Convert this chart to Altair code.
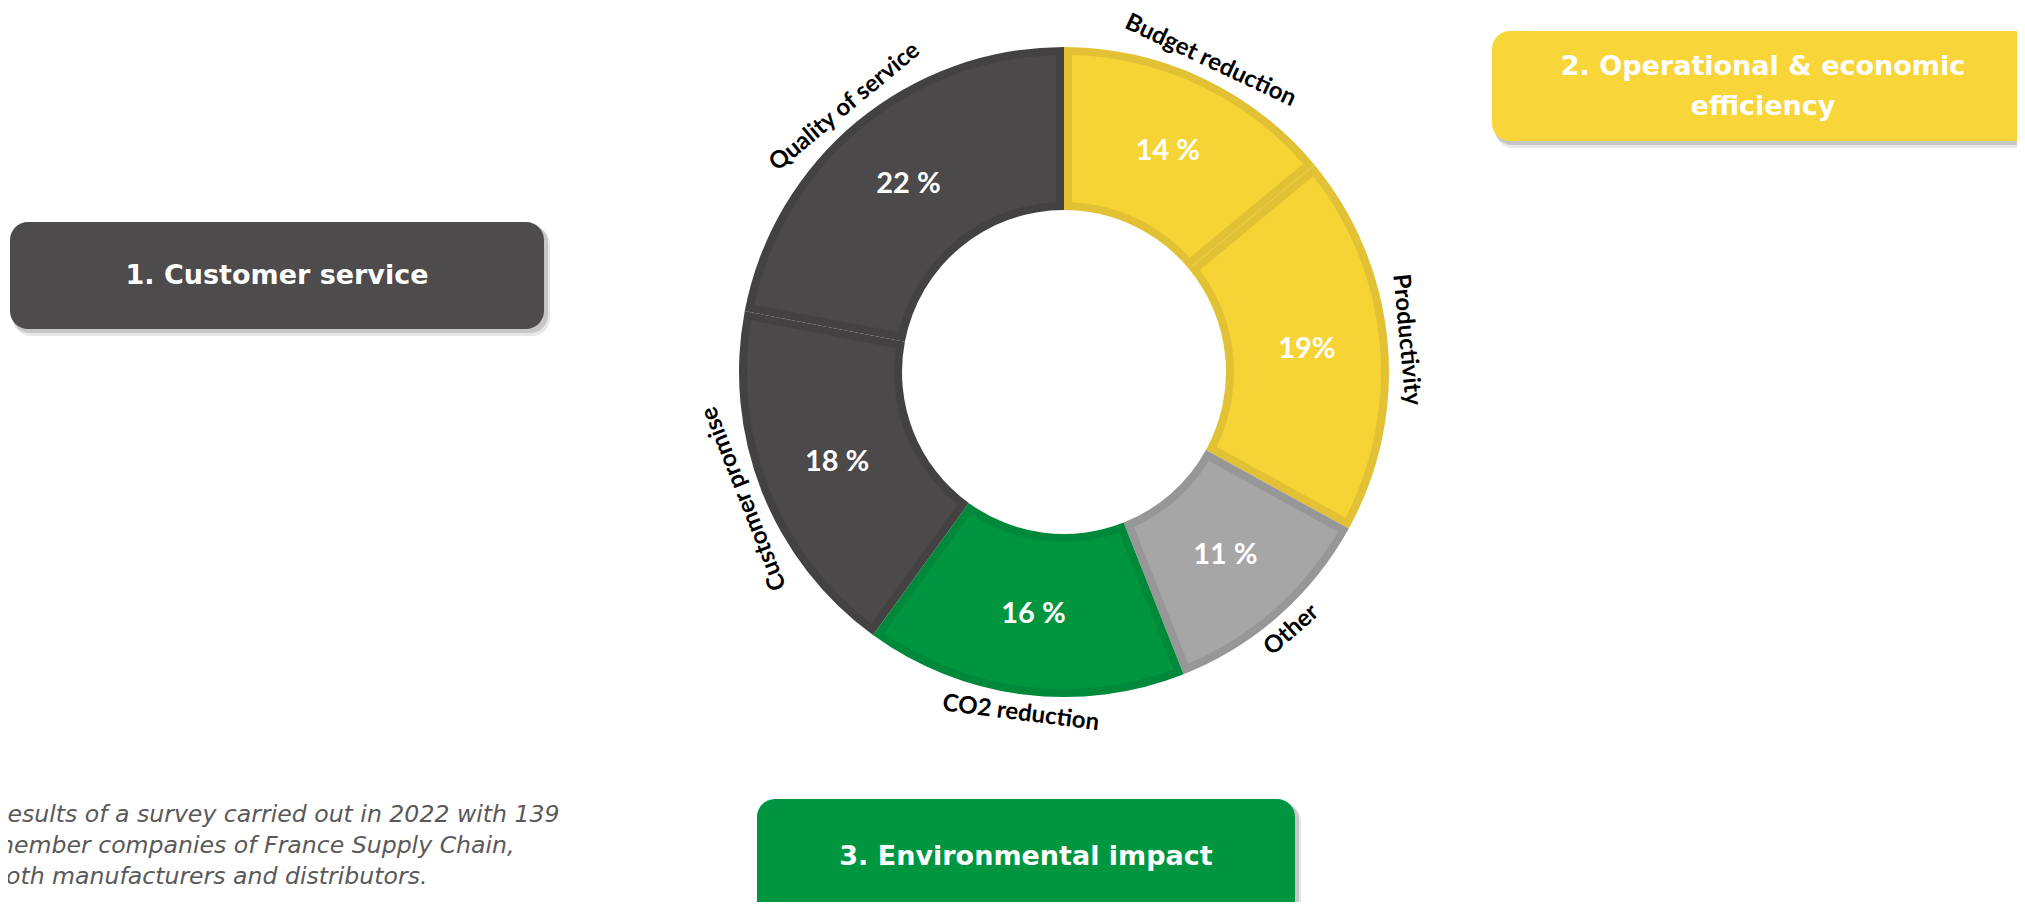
import altair as alt
import pandas as pd

# ---- data ----
categories = ["Budget reduction", "Productivity", "Other", "CO2 reduction",
              "Customer promise", "Quality of service"]
shares = [14, 19, 11, 16, 18, 22]
share_labels = ["14 %", "19%", "11 %", "16 %", "18 %", "22 %"]

group_titles = ["1. Customer service",
                ["2. Operational & economic", "efficiency"],
                "3. Environmental impact"]
footnote_lines = ["Results of a survey carried out in 2022 with 139",
                  "member companies of France Supply Chain,",
                  "both manufacturers and distributors."]

# ---- styles ----
fill_colors = ["#F7D436", "#F7D436", "#A6A6A6", "#009640", "#4B4949", "#4B4949"]
border_colors = ["#E2C234", "#E2C234", "#979797", "#00893A", "#434141", "#434141"]
box_colors = ["#4D4B4B", "#F8D538", "#009640"]

df = pd.DataFrame({"category": categories, "share": shares,
                   "label": share_labels, "idx": list(range(len(categories)))})
total = df["share"].sum()
mid = (df["share"].cumsum() - df["share"] / 2) / total * 360
df["rot"] = [m if (m < 100 or m > 240) else m - 180 for m in mid]

CX, CY = 1056, 364
one = pd.DataFrame({"k": [0]})

base = alt.Chart(df).encode(
    theta=alt.Theta("share:Q", stack=True),
    order=alt.Order("idx:Q"),
    x=alt.value(CX), y=alt.value(CY),
)

ring_border = base.mark_arc(outerRadius=325, innerRadius=162).encode(
    color=alt.Color("category:N", scale=alt.Scale(domain=categories, range=border_colors), legend=None)
)
ring_fill = base.mark_arc(outerRadius=317, innerRadius=170, padAngle=0.0445).encode(
    fill=alt.Fill("category:N", scale=alt.Scale(domain=categories, range=fill_colors), legend=None)
)
pct_text = base.mark_text(radius=244, font="Lato", fontWeight="bold", fontSize=29,
                          color="white", baseline="middle").encode(text="label:N")
cat_text = base.mark_text(radius=344, font="Lato", fontWeight="bold", fontSize=24,
                          color="black", baseline="middle").encode(
    text="category:N", angle=alt.Angle("rot:Q", scale=None))


def box(x, x2, y, y2, color, title, tx, ty):
    shadow1 = alt.Chart(one).mark_rect(cornerRadius=18, color="#7a7a7a", opacity=0.18).encode(
        x=alt.value(x + 3), x2=alt.value(x2 + 6), y=alt.value(y + 4), y2=alt.value(y2 + 7))
    shadow2 = alt.Chart(one).mark_rect(cornerRadius=18, color="#7a7a7a", opacity=0.3).encode(
        x=alt.value(x + 2), x2=alt.value(x2 + 4), y=alt.value(y + 3), y2=alt.value(y2 + 4))
    rect = alt.Chart(one).mark_rect(cornerRadius=18, color=color).encode(
        x=alt.value(x), x2=alt.value(x2), y=alt.value(y), y2=alt.value(y2))
    txt = alt.Chart(one).mark_text(font="DejaVu Sans", fontWeight="bold", fontSize=27,
                                   color="white", align="center", baseline="middle",
                                   lineHeight=40).encode(
        x=alt.value(tx), y=alt.value(ty), text=alt.value(title))
    return [shadow1, shadow2, rect, txt]


layers = []
layers += box(2, 536, 214, 321, box_colors[0], group_titles[0], 269, 268)
layers += box(1484, 2100, 23, 133, box_colors[1], group_titles[1], 1755, 59)
layers += box(749, 1287, 791, 940, box_colors[2], group_titles[2], 1018, 849)

foot = alt.Chart(one).mark_text(font="DejaVu Sans", fontStyle="italic", fontSize=23.6,
                                color="#595959", align="left", baseline="middle",
                                lineHeight=31).encode(
    x=alt.value(-17), y=alt.value(807), text=alt.value(footnote_lines))

chart = alt.layer(*layers, ring_border, ring_fill, pct_text, cat_text, foot).properties(
    width=2009, height=894, padding=0,
    autosize=alt.AutoSizeParams(type="none"),
).configure_view(stroke=None)

chart.save("out.html", embed_options={"renderer": "svg", "actions": False})
